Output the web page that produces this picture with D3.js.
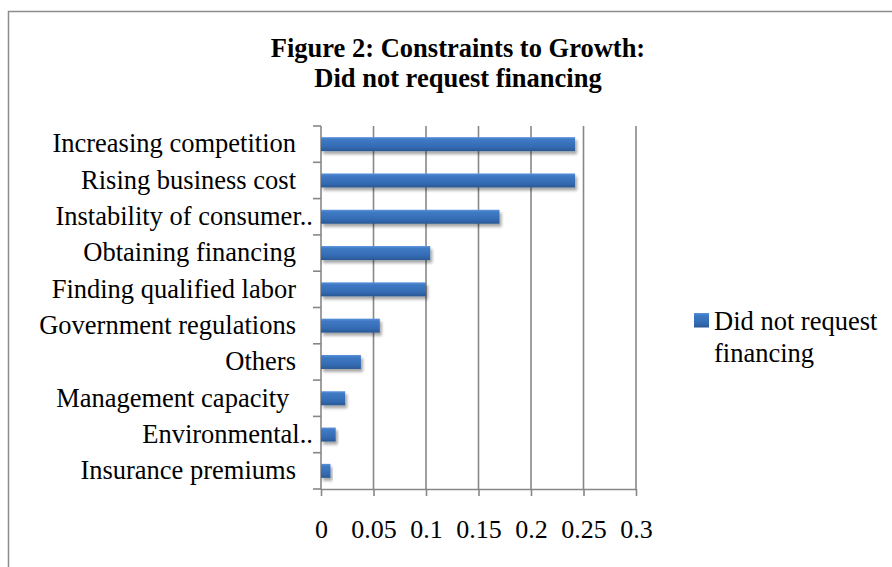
<!DOCTYPE html>
<html>
<head>
<meta charset="utf-8">
<script src="https://cdn.jsdelivr.net/npm/d3@7"></script>
<style>
  html, body { margin: 0; padding: 0; background: #fff; }
  svg { display: block; }
  text { font-family: "Liberation Serif", "Times New Roman", serif; fill: #000; white-space: pre; }
</style>
</head>
<body>
<svg id="chart" width="892" height="567"></svg>
<script>
// Constraints to growth, firms that did not request financing (share of responses)
const categories = [
  "Increasing competition",
  "Rising business cost",
  "Instability of consumer..",
  "Obtaining financing",
  "Finding qualified labor",
  "Government regulations",
  "Others",
  "Management capacity ",
  "Environmental..",
  "Insurance premiums"
];
const values = [0.242, 0.242, 0.170, 0.104, 0.100, 0.056, 0.038, 0.023, 0.014, 0.009];
const truncated = [false, false, true, false, false, false, false, false, true, false];
const xTicks = [0, 0.05, 0.1, 0.15, 0.2, 0.25, 0.3];
const xTickLabels = ["0", "0.05", "0.1", "0.15", "0.2", "0.25", "0.3"];
const titleLines = ["Figure 2: Constraints to Growth:", "Did not request financing"];
const seriesName = ["Did not request", "financing"];

const svg = d3.select("#chart");
const plot = { left: 321, right: 636, top: 126, bottom: 489 };
const gridColor = "#878787";

// gradient and shadow for the bars
const defs = svg.append("defs");
const grad = defs.append("linearGradient")
  .attr("id", "barFill").attr("x1", 0).attr("y1", 0).attr("x2", 0).attr("y2", 1);
grad.append("stop").attr("offset", "0%").attr("stop-color", "#5a92da");
grad.append("stop").attr("offset", "18%").attr("stop-color", "#3f79c4");
grad.append("stop").attr("offset", "70%").attr("stop-color", "#346bb3");
grad.append("stop").attr("offset", "100%").attr("stop-color", "#2a5893");
const shadow = defs.append("filter").attr("id", "barShadow")
  .attr("x", "-10%").attr("y", "-40%").attr("width", "130%").attr("height", "200%");
shadow.append("feGaussianBlur").attr("in", "SourceAlpha").attr("stdDeviation", 1.6).attr("result", "b");
shadow.append("feOffset").attr("in", "b").attr("dx", 2).attr("dy", 3).attr("result", "o");
shadow.append("feComponentTransfer").attr("in", "o").attr("result", "s")
  .append("feFuncA").attr("type", "linear").attr("slope", 0.35);
const merge = shadow.append("feMerge");
merge.append("feMergeNode").attr("in", "s");
merge.append("feMergeNode").attr("in", "SourceGraphic");

// outer frame (top and left edges)
svg.append("path")
  .attr("d", "M8.5,567 L8.5,11.5 L892,11.5")
  .attr("fill", "none").attr("stroke", "#8c8c8c").attr("stroke-width", 1.5);

// title: two centred bold lines
svg.append("g").selectAll("text").data(titleLines).join("text")
  .attr("x", 458)
  .attr("y", (d, i) => 57 + i * 30)
  .attr("text-anchor", "middle")
  .attr("font-size", 26.5)
  .attr("font-weight", "bold")
  .text(d => d);

// scales
const x = d3.scaleLinear().domain([0, 0.3]).range([plot.left, plot.right]);
const y = d3.scaleBand().domain(categories).range([plot.top, plot.bottom]).padding(0);
const barH = 14;

// vertical gridlines
svg.append("g").selectAll("line").data(xTicks.slice(1)).join("line")
  .attr("x1", d => x(d)).attr("x2", d => x(d))
  .attr("y1", plot.top).attr("y2", plot.bottom)
  .attr("stroke", gridColor).attr("stroke-width", 1.6);

// bottom axis
const xAxis = d3.axisBottom(x).tickValues(xTicks)
  .tickFormat((d, i) => xTickLabels[i]).tickSize(7).tickSizeOuter(0).tickPadding(0);
const gx = svg.append("g").attr("transform", `translate(0,${plot.bottom})`).call(xAxis);
gx.select(".domain").attr("stroke", gridColor).attr("stroke-width", 1.6);
gx.selectAll(".tick line").attr("stroke", gridColor).attr("stroke-width", 1.6);
gx.selectAll(".tick text")
  .attr("y", null).attr("dy", null)
  .attr("transform", "translate(0,48.5)")
  .attr("font-family", "Liberation Serif, Times New Roman, serif")
  .attr("font-size", 26).attr("fill", "#000");

// left axis: line with ticks at category boundaries
const boundaries = categories.map(c => y(c)).concat([plot.bottom]);
const gy = svg.append("g");
gy.append("line")
  .attr("x1", plot.left).attr("x2", plot.left)
  .attr("y1", plot.top).attr("y2", plot.bottom)
  .attr("stroke", gridColor).attr("stroke-width", 1.6);
gy.selectAll("line.tick").data(boundaries).join("line").attr("class", "tick")
  .attr("x1", plot.left - 8).attr("x2", plot.left)
  .attr("y1", d => d).attr("y2", d => d)
  .attr("stroke", gridColor).attr("stroke-width", 1.6);

// category labels
svg.append("g").selectAll("text").data(categories).join("text")
  .attr("x", (d, i) => truncated[i] ? 313 : 296)
  .attr("y", d => y(d) + y.bandwidth() / 2 + 8.3)
  .attr("text-anchor", "end")
  .attr("font-size", 26.5)
  .text(d => d);

// bars
svg.append("g").selectAll("rect").data(values).join("rect")
  .attr("x", x(0))
  .attr("y", (d, i) => y(categories[i]) + y.bandwidth() / 2 - barH / 2)
  .attr("width", d => x(d) - x(0))
  .attr("height", barH)
  .attr("fill", "url(#barFill)")
  .attr("filter", "url(#barShadow)");

// legend
const legend = svg.append("g");
legend.append("rect")
  .attr("x", 694).attr("y", 313).attr("width", 15).attr("height", 14.5)
  .attr("fill", "url(#barFill)");
seriesName.forEach((t, i) => {
  legend.append("text")
    .attr("x", 714).attr("y", 329.5 + i * 32.5)
    .attr("font-size", 26.5)
    .text(t);
});
</script>
</body>
</html>
